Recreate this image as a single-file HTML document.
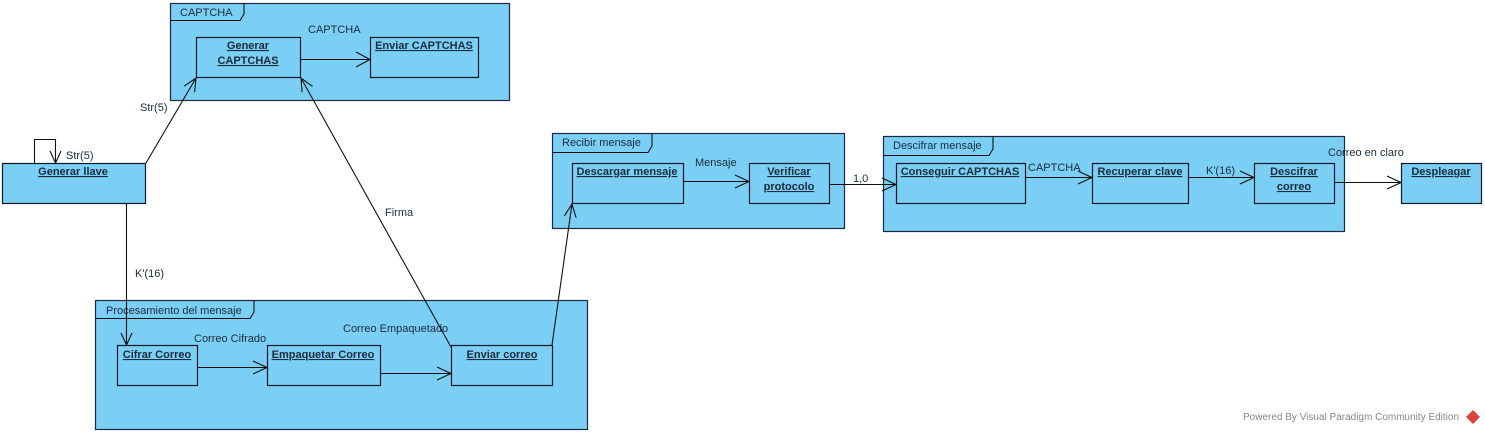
<!DOCTYPE html>
<html><head><meta charset="utf-8"><style>
html,body{margin:0;padding:0;background:#fff;}
svg{display:block;font-family:"Liberation Sans",sans-serif;}
.f{fill:#7bcff4;stroke:#1a2a40;stroke-width:1.2;}
.n{fill:#7bcff4;stroke:#101828;stroke-width:1.2;}
.t{font-size:11px;fill:#1b2b3b;}
.b{font-size:11px;font-weight:bold;text-decoration:underline;fill:#1b2b3b;}
.l{stroke:#111;stroke-width:1.1;fill:none;}
</style></head><body>
<svg width="1485" height="433" viewBox="0 0 1485 433">
<rect class="f" x="170.5" y="3.5" width="339" height="97"/>
<path class="l" d="M170.5 20.5 H240 L244 14 V3.5"/>
<text class="t" x="180" y="16">CAPTCHA</text>

<rect class="f" x="95.5" y="300.5" width="492" height="129"/>
<path class="l" d="M95.5 318.5 H250 L254 312 V300.5"/>
<text class="t" x="106" y="314">Procesamiento del mensaje</text>

<rect class="f" x="552.5" y="133.5" width="292" height="95"/>
<path class="l" d="M552.5 152.5 H648 L652 146 V133.5"/>
<text class="t" x="562" y="146">Recibir mensaje</text>

<rect class="f" x="883.5" y="136.5" width="461" height="95"/>
<path class="l" d="M883.5 155.5 H989 L993 149 V136.5"/>
<text class="t" x="893" y="149">Descifrar mensaje</text>

<rect class="n" x="196.5" y="37.5" width="104" height="40"/>
<text class="b" x="248" y="49" text-anchor="middle">Generar</text>
<text class="b" x="248" y="64" text-anchor="middle">CAPTCHAS</text>
<rect class="n" x="370.5" y="37.5" width="108" height="40"/>
<text class="b" x="424" y="49" text-anchor="middle">Enviar CAPTCHAS</text>
<rect class="n" x="2.5" y="163.5" width="143" height="40"/>
<text class="b" x="73" y="175" text-anchor="middle">Generar llave</text>
<rect class="n" x="117.5" y="345.5" width="80" height="40"/>
<text class="b" x="157" y="358" text-anchor="middle">Cifrar Correo</text>
<rect class="n" x="267.5" y="345.5" width="113" height="40"/>
<text class="b" x="323" y="358" text-anchor="middle">Empaquetar Correo</text>
<rect class="n" x="451.5" y="345.5" width="101" height="40"/>
<text class="b" x="502" y="358" text-anchor="middle">Enviar correo</text>
<rect class="n" x="572.5" y="163.5" width="111" height="40"/>
<text class="b" x="627" y="175" text-anchor="middle">Descargar mensaje</text>
<rect class="n" x="749.5" y="163.5" width="80" height="40"/>
<text class="b" x="789" y="175" text-anchor="middle">Verificar</text>
<text class="b" x="789" y="190" text-anchor="middle">protocolo</text>
<rect class="n" x="896.5" y="163.5" width="129" height="40"/>
<text class="b" x="960" y="175" text-anchor="middle">Conseguir CAPTCHAS</text>
<rect class="n" x="1092.5" y="163.5" width="96" height="40"/>
<text class="b" x="1140" y="175" text-anchor="middle">Recuperar clave</text>
<rect class="n" x="1254.5" y="163.5" width="80" height="40"/>
<text class="b" x="1294" y="175" text-anchor="middle">Descifrar</text>
<text class="b" x="1294" y="190" text-anchor="middle">correo</text>
<rect class="n" x="1401.5" y="163.5" width="80" height="40"/>
<text class="b" x="1441" y="175" text-anchor="middle">Despleagar</text>

<path class="l" d="M300 59.5 H370 M356 52 L370 59.5 L356 67"/>
<text class="t" x="308" y="33">CAPTCHA</text>
<path class="l" d="M146 163 L196 78 M184.2 86.2 L196 78 L194.6 92.2"/>
<text class="t" x="140" y="111">Str(5)</text>
<path class="l" d="M34.5 163 V139.5 H55.5 V163 M50 151 L55.5 163 L61 151"/>
<text class="t" x="66" y="159">Str(5)</text>
<path class="l" d="M126.5 203 V345 M121 333 L126.5 345 L132 333"/>
<text class="t" x="135" y="277">K'(16)</text>
<path class="l" d="M197 367.5 H267 M253 361 L267 367.5 L253 374"/>
<text class="t" x="194" y="342">Correo Cifrado</text>
<path class="l" d="M380 373.5 H451 M437 367 L451 373.5 L437 380"/>
<text class="t" x="343" y="332">Correo Empaquetado</text>
<path class="l" d="M451 347 L301 78 M312.5 86.4 L301 78 L302.1 92.2"/>
<text class="t" x="385" y="216">Firma</text>
<path class="l" d="M552 345 L572 204 M576.1 217.7 L572 204 L564.3 216.1"/>
<path class="l" d="M683 181.5 H749 M735 175 L749 181.5 L735 188"/>
<text class="t" x="695" y="166">Mensaje</text>
<path class="l" d="M829 184.5 H896 M882 178 L896 184.5 L882 191"/>
<text class="t" x="853" y="182">1,0</text>
<path class="l" d="M1025 177.5 H1092 M1078 171 L1092 177.5 L1078 184"/>
<text class="t" x="1028" y="171">CAPTCHA</text>
<path class="l" d="M1188 177.5 H1254 M1240 171 L1254 177.5 L1240 184"/>
<text class="t" x="1206" y="174">K'(16)</text>
<path class="l" d="M1334 182.5 H1401 M1387 176 L1401 182.5 L1387 189"/>
<text class="t" x="1328" y="156">Correo en claro</text>

<text x="1243" y="420" style="font-size:10px;fill:#888;">Powered By  Visual Paradigm Community Edition</text>
<path d="M1473 410 L1480 417 L1473 424 L1466 417 Z" fill="#d9433a"/>
</svg>
</body></html>
